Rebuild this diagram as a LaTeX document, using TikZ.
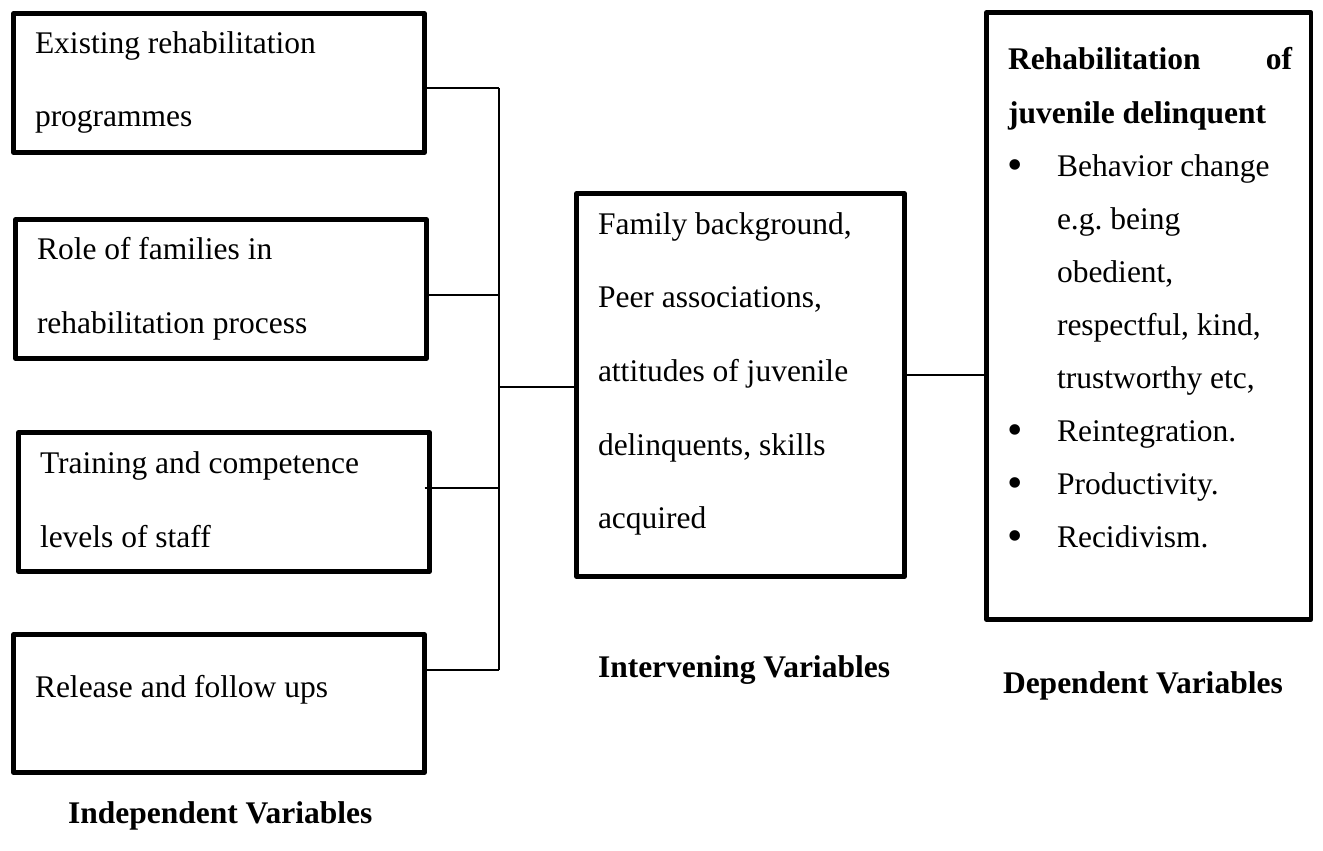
\documentclass[tikz,border=0pt]{standalone}
\usepackage{fontspec}
\setmainfont{Liberation Serif}
\frenchspacing
\begin{document}
\begin{tikzpicture}[x=1pt,y=-1pt,
  box/.style={draw,line width=4.5pt,line join=round,inner sep=0pt,outer sep=0pt,anchor=north west},
  txt/.style={anchor=base west,inner sep=0pt,outer sep=0pt,font=\fontsize{31.5}{31.5}\selectfont},
  btxt/.style={txt,font=\fontsize{31.5}{31.5}\selectfont\bfseries},
  bul/.style={anchor=base west,inner sep=0pt,outer sep=0pt,font=\fontsize{44}{44}\selectfont,yshift=-3pt},
  conn/.style={line width=1.3pt}]
\useasboundingbox (0,0) rectangle (1323,851);

% independent variable boxes
\node[box,minimum width=411pt,minimum height=139pt] (b1) at (13.5,13.5) {};
\node[box,minimum width=411pt,minimum height=139pt] (b2) at (15.5,219.5) {};
\node[box,minimum width=411pt,minimum height=139pt] (b3) at (18.5,432.5) {};
\node[box,minimum width=411pt,minimum height=138pt] (b4) at (13.5,634.5) {};
% intervening box
\node[box,minimum width=328pt,minimum height=383pt] (m) at (576.5,193.5) {};
% dependent box
\node[box,minimum width=324.5pt,minimum height=607pt] (r) at (986.5,12.5) {};

% texts
\node[txt] (t11) at (35,54) {Existing rehabilitation};
\node[txt] (t12) at (35,126) {programmes};
\node[txt] (t21) at (37,259) {Role of families in};
\node[txt] (t22) at (37,333) {rehabilitation process};
\node[txt] (t31) at (40,473) {Training and competence};
\node[txt] (t32) at (40,547) {levels of staff};
\node[txt] (t41) at (35,697) {Release and follow ups};

\node[txt] (m1) at (598,234) {Family background,};
\node[txt] (m2) at (598,307) {Peer associations,};
\node[txt] (m3) at (598,381) {attitudes of juvenile};
\node[txt] (m4) at (598,455) {delinquents, skills};
\node[txt] (m5) at (598,528) {acquired};

\node[btxt] (r1) at (1008,70) {\makebox[284pt]{Rehabilitation\hfill of}};
\node[btxt] (r2) at (1008,123) {juvenile delinquent};
\node[bul] (bu1) at (1007,176) {•};
\node[txt] (r3) at (1057,176) {Behavior change};
\node[txt] (r4) at (1057,229) {e.g. being};
\node[txt] (r5) at (1057,282) {obedient,};
\node[txt] (r6) at (1057,335) {respectful, kind,};
\node[txt] (r7) at (1057,388) {trustworthy etc,};
\node[bul] (bu2) at (1007,441) {•};
\node[txt] (r8) at (1057,441) {Reintegration.};
\node[bul] (bu3) at (1007,494) {•};
\node[txt] (r9) at (1057,494) {Productivity.};
\node[bul] (bu4) at (1007,547) {•};
\node[txt] (r10) at (1057,547) {Recidivism.};

% captions
\node[btxt] (c1) at (68,823) {Independent Variables};
\node[btxt] (c2) at (598,677) {Intervening Variables};
\node[btxt] (c3) at (1003,693) {Dependent Variables};

% connectors
\coordinate (j1) at (499,88);
\coordinate (j2) at (499,295);
\coordinate (j3) at (499,488);
\coordinate (j4) at (499,670);
\coordinate (jm) at (499,387);
\coordinate (jr) at (905,375);
\draw[conn] (j1) -- (j4);
\draw[conn] (b1.east |- j1) -- (j1);
\draw[conn] (b2.east |- j2) -- (j2);
\draw[conn] ([xshift=-5pt]b3.east |- j3) -- (j3);
\draw[conn] (b4.east |- j4) -- (j4);
\draw[conn] (jm) -- (jm -| m.west);
\draw[conn] (jr -| m.east) -- (jr -| r.west);
\end{tikzpicture}
\end{document}
